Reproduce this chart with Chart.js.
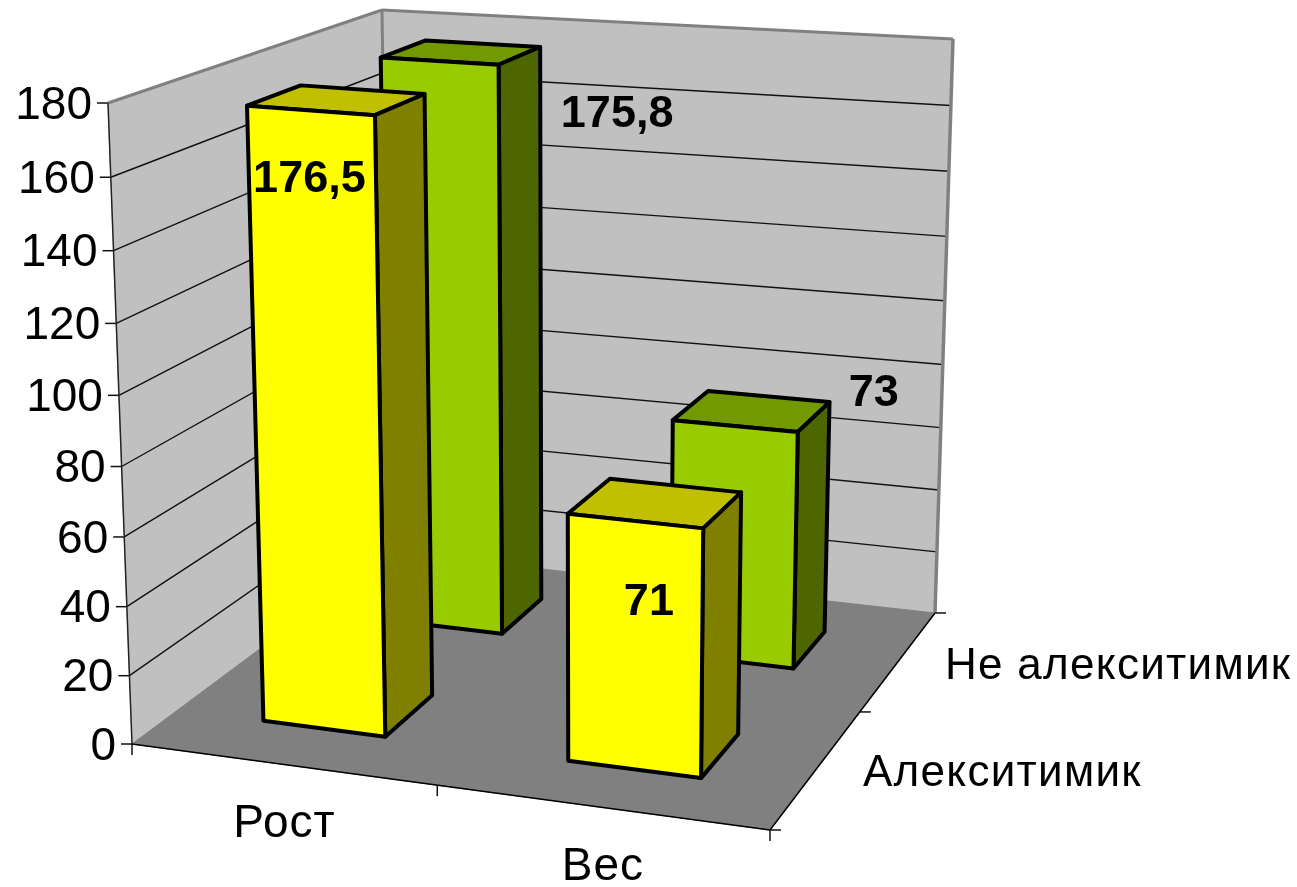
<!DOCTYPE html>
<html lang="ru">
<head>
    <meta charset="UTF-8">
    <title>Рост и вес</title>
    <script src="https://cdn.jsdelivr.net/npm/chart.js"></script>
    <style>
        html, body { margin: 0; padding: 0; background: #fff; }
        canvas { display: block; }
    </style>
</head>
<body>
    <canvas id="chart" width="1297" height="887"></canvas>

    <script>
        // Данные диаграммы
        const categories = ['Рост', 'Вес'];
        const seriesNames = ['Алекситимик', 'Не алекситимик'];
        const alexithymicValues = [176.5, 71];
        const nonAlexithymicValues = [175.8, 73];
        const valueMax = 180;
        const valueStep = 20;

        // Углы трёхмерного короба на экране
        const box = {
            floorFrontLeft: [132, 744], floorFrontRight: [770, 830],
            floorBackLeft: [390, 552], floorBackRight: [935, 613],
            topFrontLeft: [108, 103], topFrontRight: [779, 155],
            topBackLeft: [382, 10], topBackRight: [953, 39]
        };
        const widthSkew = 1.09;
        const depthSkew = 0.838;
        const heightSkew = 1.048;
        const barDepth = 0.19;

        const faceColors = [
            { front: '#ffff00', side: '#808000', top: '#c0c000' },
            { front: '#99cc00', side: '#4d6600', top: '#739900' }
        ];
        // Смещение подписи значения от верхней грани столбика
        const labelNudges = [
            [[-1, 69], [14, 82]],
            [[178, 54], [139, -32]]
        ];

        const warp = (t, r) => t / (t + (1 - t) * r);
        const mix = (a, b, t) => [a[0] + (b[0] - a[0]) * t, a[1] + (b[1] - a[1]) * t];
        const decimal = (scale, value) => scale.getDecimalForPixel(scale.getPixelForValue(value));

        function project(u, v, w) {
            const su = warp(u, widthSkew);
            const sv = warp(v, depthSkew);
            const floor = mix(
                mix(box.floorFrontLeft, box.floorFrontRight, su),
                mix(box.floorBackLeft, box.floorBackRight, su), sv);
            const top = mix(
                mix(box.topFrontLeft, box.topFrontRight, su),
                mix(box.topBackLeft, box.topBackRight, su), sv);
            return mix(floor, top, warp(w, heightSkew));
        }

        function poly(ctx, points, fill) {
            ctx.beginPath();
            points.forEach((p, i) => i ? ctx.lineTo(p[0], p[1]) : ctx.moveTo(p[0], p[1]));
            ctx.closePath();
            if (fill) {
                ctx.fillStyle = fill;
                ctx.fill();
            }
            ctx.stroke();
        }

        function line(ctx, a, b, color, width) {
            ctx.strokeStyle = color;
            ctx.lineWidth = width;
            ctx.beginPath();
            ctx.moveTo(a[0], a[1]);
            ctx.lineTo(b[0], b[1]);
            ctx.stroke();
        }

        function text(ctx, str, x, y, font, align, spacing) {
            ctx.font = font;
            ctx.textAlign = align;
            ctx.textBaseline = 'middle';
            ctx.letterSpacing = spacing || '0px';
            ctx.fillStyle = '#000';
            ctx.fillText(str, x, y);
        }

        // Геометрия столбика из шкал Chart.js
        function barCorners(chart, datasetIndex, el) {
            const s = chart.scales;
            const u0 = s.x.getDecimalForPixel(el.x - el.width / 2);
            const u1 = s.x.getDecimalForPixel(el.x + el.width / 2);
            const w = s.y.getDecimalForPixel(el.y);
            const vc = decimal(s.z, datasetIndex);
            return { u0, u1, w, v0: vc - barDepth / 2, v1: vc + barDepth / 2 };
        }

        const box3d = {
            id: 'box3d',
            beforeDatasetsDraw(chart) {
                const ctx = chart.ctx;
                const s = chart.scales;
                ctx.save();
                ctx.lineJoin = 'round';

                // Стены и пол
                ctx.lineWidth = 1;
                ctx.strokeStyle = '#c0c0c0';
                poly(ctx, [project(0, 0, 0), project(0, 1, 0), project(0, 1, 1), project(0, 0, 1)], '#c0c0c0');
                poly(ctx, [project(0, 1, 0), project(1, 1, 0), project(1, 1, 1), project(0, 1, 1)], '#c0c0c0');
                ctx.strokeStyle = '#808080';
                poly(ctx, [project(0, 0, 0), project(1, 0, 0), project(1, 1, 0), project(0, 1, 0)], '#808080');

                // Линии сетки и деления оси значений
                s.y.ticks.forEach(tick => {
                    const w = decimal(s.y, tick.value);
                    const a = project(0, 0, w);
                    if (tick.value > 0 && tick.value < valueMax) {
                        line(ctx, a, project(0, 1, w), '#111', 1.4);
                        line(ctx, project(0, 1, w), project(1, 1, w), '#111', 1.4);
                    }
                    line(ctx, [a[0] - 11, a[1]], a, '#111', 1.5);
                    text(ctx, String(tick.value), a[0] - 16, a[1] + 3, '46px "Liberation Sans"', 'right');
                });

                // Контур короба
                line(ctx, project(0, 0, 1), project(0, 1, 1), '#808080', 3);
                line(ctx, project(0, 1, 1), project(1, 1, 1), '#808080', 3);
                line(ctx, project(0, 1, 0), project(0, 1, 1), '#808080', 3);
                line(ctx, project(1, 1, 0), project(1, 1, 1), '#808080', 3.5);
                line(ctx, project(0, 0, 0), project(0, 0, 1), '#222', 1.5);
                line(ctx, project(0, 0, 0), project(1, 0, 0), '#000', 1.5);
                line(ctx, project(1, 0, 0), project(1, 1, 0), '#000', 1.5);

                // Деления и подписи категорий
                for (let i = 0; i <= categories.length; i++) {
                    const p = project(i / categories.length, 0, 0);
                    line(ctx, p, [p[0], p[1] + 11], '#111', 1.5);
                }
                categories.forEach((name, i) => {
                    const p = project(decimal(s.x, i), 0, 0);
                    text(ctx, name, p[0] + 3, p[1] + 60, '46px "Liberation Sans"', 'center', '1px');
                });

                // Деления и подписи рядов
                for (let i = 0; i <= seriesNames.length; i++) {
                    const p = project(1, i / seriesNames.length, 0);
                    line(ctx, p, [p[0] + 11, p[1]], '#111', 1.5);
                }
                seriesNames.forEach((name, i) => {
                    const p = project(1, decimal(s.z, i), 0);
                    text(ctx, name, p[0] + 46, p[1] + 6, '44px "Liberation Sans"', 'left', '1.3px');
                });
                ctx.restore();
            },
            // Вместо плоских столбиков рисуем параллелепипеды
            beforeDatasetDraw(chart, args) {
                const ctx = chart.ctx;
                const colors = faceColors[args.index];
                ctx.save();
                ctx.lineJoin = 'round';
                ctx.lineWidth = 4;
                ctx.strokeStyle = '#000';
                args.meta.data.forEach(el => {
                    const b = barCorners(chart, args.index, el);
                    poly(ctx, [project(b.u0, b.v0, b.w), project(b.u1, b.v0, b.w), project(b.u1, b.v1, b.w), project(b.u0, b.v1, b.w)], colors.top);
                    poly(ctx, [project(b.u1, b.v0, 0), project(b.u1, b.v1, 0), project(b.u1, b.v1, b.w), project(b.u1, b.v0, b.w)], colors.side);
                    poly(ctx, [project(b.u0, b.v0, 0), project(b.u1, b.v0, 0), project(b.u1, b.v0, b.w), project(b.u0, b.v0, b.w)], colors.front);
                });
                ctx.restore();
                return false;
            },
            afterDatasetsDraw(chart) {
                const ctx = chart.ctx;
                ctx.save();
                chart.data.datasets.forEach((dataset, di) => {
                    chart.getDatasetMeta(di).data.forEach((el, i) => {
                        const b = barCorners(chart, di, el);
                        const p = project((b.u0 + b.u1) / 2, b.v0, b.w);
                        const nudge = labelNudges[di][i];
                        const label = String(dataset.data[i]).replace('.', ',');
                        text(ctx, label, p[0] + nudge[0], p[1] + nudge[1], 'bold 45px "Liberation Sans"', 'center');
                    });
                });
                ctx.restore();
            }
        };

        new Chart(document.getElementById('chart'), {
            type: 'bar',
            data: {
                labels: categories,
                datasets: [
                    { label: seriesNames[0], data: alexithymicValues, backgroundColor: faceColors[0].front },
                    { label: seriesNames[1], data: nonAlexithymicValues, backgroundColor: faceColors[1].front }
                ]
            },
            options: {
                responsive: false,
                animation: false,
                layout: { padding: 0 },
                grouped: false,
                barPercentage: 0.41,
                categoryPercentage: 1,
                plugins: { legend: { display: false }, tooltip: { enabled: false } },
                scales: {
                    x: { display: false },
                    y: { display: false, min: 0, max: valueMax, ticks: { stepSize: valueStep } },
                    z: { type: 'category', axis: 'x', labels: seriesNames, offset: true, display: false }
                }
            },
            plugins: [box3d]
        });
    </script>
</body>
</html>
